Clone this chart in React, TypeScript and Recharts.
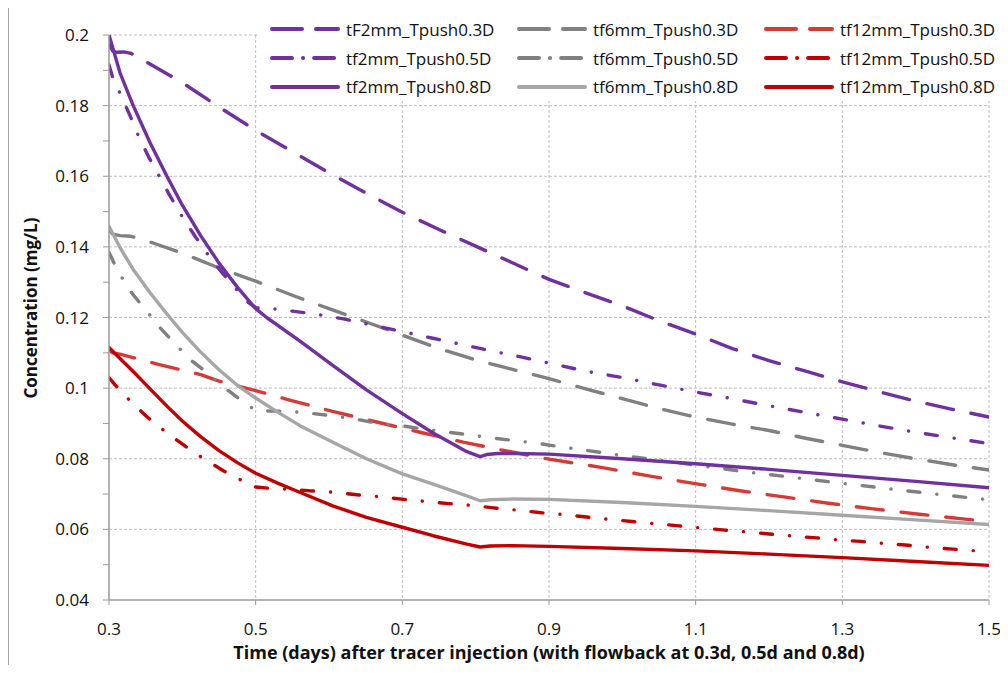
import React from 'react';
import { LineChart, Line, XAxis, YAxis, CartesianGrid } from 'recharts';

// time (days) / concentration (mg/L) pairs
const f2mm03 = [
  [0.3, 0.1972], [0.305, 0.1955], [0.31, 0.1951], [0.32, 0.1952], [0.33, 0.1948], [0.34, 0.1937],
  [0.35, 0.1925], [0.4, 0.1865], [0.45, 0.1796], [0.5, 0.173], [0.55, 0.167], [0.6, 0.161],
  [0.65, 0.1553], [0.7, 0.1498], [0.75, 0.1449], [0.8, 0.1402], [0.85, 0.1355], [0.9, 0.1308],
  [0.95, 0.127], [1.0, 0.1233], [1.05, 0.1191], [1.1, 0.1153], [1.15, 0.1112], [1.2, 0.1078],
  [1.25, 0.1048], [1.3, 0.1018], [1.35, 0.099], [1.4, 0.0963], [1.45, 0.094], [1.5, 0.0918],
];
const f2mm05 = [
  [0.3, 0.1915], [0.305, 0.188], [0.315, 0.1835], [0.328, 0.1775], [0.34, 0.1715], [0.354, 0.1655],
  [0.37, 0.1595], [0.383, 0.1545], [0.4, 0.1485], [0.418, 0.1428], [0.435, 0.1378], [0.455, 0.1325],
  [0.475, 0.1277], [0.49, 0.1243], [0.5, 0.1228], [0.51, 0.1225], [0.53, 0.1224], [0.55, 0.1218],
  [0.58, 0.121], [0.62, 0.1196], [0.66, 0.1178], [0.7, 0.116], [0.74, 0.1142], [0.78, 0.1124],
  [0.82, 0.1106], [0.86, 0.1089], [0.9, 0.1071], [0.95, 0.1048], [1.0, 0.103], [1.05, 0.1009],
  [1.1, 0.0989], [1.15, 0.097], [1.2, 0.095], [1.25, 0.0931], [1.3, 0.0912], [1.35, 0.0893],
  [1.4, 0.0875], [1.45, 0.0859], [1.5, 0.0843],
];
const f2mm08 = [
  [0.3, 0.2], [0.315, 0.1893], [0.333, 0.18], [0.356, 0.1695], [0.379, 0.16], [0.4, 0.1518],
  [0.425, 0.1432], [0.45, 0.1354], [0.475, 0.1286], [0.5, 0.1225], [0.515, 0.12], [0.56, 0.1134],
  [0.606, 0.1063], [0.651, 0.0995], [0.7, 0.0928], [0.742, 0.0873], [0.788, 0.082], [0.806, 0.0806],
  [0.815, 0.0812], [0.83, 0.0815], [0.856, 0.0815], [0.9, 0.0813], [1.0, 0.08], [1.1, 0.0786],
  [1.2, 0.077], [1.3, 0.0753], [1.4, 0.0736], [1.5, 0.0718],
];
const f6mm03 = [
  [0.3, 0.1448], [0.305, 0.1436], [0.315, 0.1432], [0.33, 0.143], [0.36, 0.1411], [0.4, 0.1382],
  [0.45, 0.134], [0.5, 0.1303], [0.55, 0.1263], [0.6, 0.1225], [0.65, 0.1188], [0.7, 0.115],
  [0.75, 0.1112], [0.8, 0.108], [0.85, 0.1053], [0.9, 0.1027], [0.95, 0.0998], [1.0, 0.097],
  [1.05, 0.0942], [1.1, 0.0918], [1.15, 0.0898], [1.2, 0.088], [1.25, 0.0858], [1.3, 0.0838],
  [1.35, 0.0818], [1.4, 0.08], [1.45, 0.0783], [1.5, 0.0768],
];
const f6mm05 = [
  [0.3, 0.1385], [0.31, 0.134], [0.32, 0.1305], [0.33, 0.1272], [0.347, 0.1229], [0.37, 0.117],
  [0.388, 0.113], [0.41, 0.1082], [0.434, 0.1043], [0.457, 0.1002], [0.483, 0.0961], [0.5, 0.0937],
  [0.52, 0.0935], [0.541, 0.0935], [0.57, 0.093], [0.604, 0.0922], [0.642, 0.091], [0.667, 0.09],
  [0.7, 0.0893], [0.729, 0.0884], [0.763, 0.0875], [0.79, 0.0868], [0.822, 0.0859], [0.851, 0.0852],
  [0.89, 0.0842], [0.915, 0.0834], [0.95, 0.0824], [0.977, 0.0816], [1.0, 0.0809], [1.05, 0.0796],
  [1.1, 0.0782], [1.164, 0.0764], [1.226, 0.0749], [1.289, 0.0733], [1.351, 0.0718], [1.414, 0.0703],
  [1.476, 0.0689], [1.5, 0.0684],
];
const f6mm08 = [
  [0.3, 0.1458], [0.315, 0.1398], [0.333, 0.1336], [0.356, 0.127], [0.379, 0.121], [0.4, 0.1158],
  [0.424, 0.1104], [0.45, 0.1052], [0.475, 0.1008], [0.5, 0.0972], [0.53, 0.0932], [0.561, 0.0893],
  [0.606, 0.0846], [0.651, 0.08], [0.7, 0.0757], [0.742, 0.0728], [0.788, 0.0695], [0.806, 0.0681],
  [0.82, 0.0684], [0.85, 0.0686], [0.9, 0.0685], [1.0, 0.0676], [1.1, 0.0665], [1.2, 0.0653],
  [1.3, 0.064], [1.4, 0.0627], [1.5, 0.0614],
];
const f12mm03 = [
  [0.3, 0.1108], [0.305, 0.11], [0.315, 0.1096], [0.33, 0.1088], [0.366, 0.1068], [0.4, 0.1051],
  [0.425, 0.1038], [0.45, 0.102], [0.485, 0.1001], [0.5, 0.0993], [0.545, 0.0967], [0.605, 0.0934],
  [0.665, 0.0904], [0.724, 0.0875], [0.783, 0.0847], [0.842, 0.0822], [0.9, 0.0799], [0.973, 0.0775],
  [1.034, 0.0752], [1.095, 0.0731], [1.158, 0.071], [1.22, 0.0692], [1.281, 0.0674], [1.342, 0.0658],
  [1.405, 0.0643], [1.467, 0.0629], [1.5, 0.0622],
];
const f12mm05 = [
  [0.3, 0.103], [0.308, 0.101], [0.331, 0.0959], [0.354, 0.0915], [0.379, 0.0873], [0.405, 0.0834],
  [0.43, 0.0799], [0.456, 0.0766], [0.485, 0.0734], [0.5, 0.072], [0.52, 0.0716], [0.546, 0.0714],
  [0.575, 0.0709], [0.608, 0.0705], [0.638, 0.0698], [0.672, 0.0692], [0.702, 0.0685], [0.733, 0.0679],
  [0.763, 0.0673], [0.795, 0.0668], [0.824, 0.0661], [0.858, 0.0654], [0.89, 0.0647], [0.92, 0.0642],
  [0.951, 0.0635], [0.983, 0.0628], [1.02, 0.0621], [1.045, 0.0616], [1.077, 0.061], [1.108, 0.0604],
  [1.14, 0.0598], [1.17, 0.0593], [1.2, 0.0587], [1.233, 0.0581], [1.265, 0.0576], [1.295, 0.057],
  [1.325, 0.0566], [1.358, 0.056], [1.39, 0.0555], [1.42, 0.0549], [1.451, 0.0544], [1.483, 0.0539],
  [1.5, 0.0536],
];
const f12mm08 = [
  [0.3, 0.1115], [0.315, 0.1084], [0.333, 0.1047], [0.356, 0.0998], [0.379, 0.0949], [0.4, 0.0907],
  [0.424, 0.0864], [0.45, 0.0823], [0.475, 0.0789], [0.5, 0.0759], [0.53, 0.0731], [0.56, 0.0705],
  [0.606, 0.0666], [0.651, 0.0634], [0.7, 0.0606], [0.742, 0.0582], [0.788, 0.0558], [0.806, 0.055],
  [0.82, 0.0553], [0.85, 0.0554], [0.9, 0.0552], [1.0, 0.0546], [1.1, 0.0539], [1.2, 0.053],
  [1.3, 0.052], [1.4, 0.0509], [1.5, 0.0498],
];

const xTicks = [0.3, 0.5, 0.7, 0.9, 1.1, 1.3, 1.5];
const yTicks = [0.04, 0.05, 0.06, 0.07, 0.08, 0.09, 0.1, 0.11, 0.12, 0.13, 0.14, 0.15, 0.16, 0.17, 0.18, 0.19, 0.2];
const xGrid = [0.5, 0.7, 0.9, 1.1, 1.3, 1.5];
const yGrid = [0.06, 0.08, 0.1, 0.12, 0.14, 0.16, 0.18, 0.2];

const PURPLE = '#7030A0';
const GRAY = '#808080';
const LIGHT_GRAY = '#A6A6A6';
const RED = '#D63A36';
const DARK_RED = '#C00000';

const DASH = '27 18';
const DASH_DOT = '12 17 0.1 17';
const LEG_DASH = '30 14';
const LEG_DASH_DOT = '20 11 0.1 11';

// legend is read row by row, so keep that order here
const series = [
  { name: 'tF2mm_Tpush0.3D', color: PURPLE, kind: 'dash', data: f2mm03 },
  { name: 'tf6mm_Tpush0.3D', color: GRAY, kind: 'dash', data: f6mm03 },
  { name: 'tf12mm_Tpush0.3D', color: RED, kind: 'dash', data: f12mm03 },
  { name: 'tf2mm_Tpush0.5D', color: PURPLE, kind: 'dashdot', data: f2mm05 },
  { name: 'tf6mm_Tpush0.5D', color: GRAY, kind: 'dashdot', data: f6mm05 },
  { name: 'tf12mm_Tpush0.5D', color: DARK_RED, kind: 'dashdot', data: f12mm05 },
  { name: 'tf2mm_Tpush0.8D', color: PURPLE, kind: 'solid', data: f2mm08 },
  { name: 'tf6mm_Tpush0.8D', color: LIGHT_GRAY, kind: 'solid', data: f6mm08 },
  { name: 'tf12mm_Tpush0.8D', color: DARK_RED, kind: 'solid', data: f12mm08 },
];

const FONT = "'Open Sans', sans-serif";
const toPts = (arr) => arr.map(([t, c]) => ({ t, c }));
const plotDash = (k) => (k === 'dash' ? DASH : k === 'dashdot' ? DASH_DOT : undefined);
const legDash = (k) => (k === 'dash' ? LEG_DASH : k === 'dashdot' ? LEG_DASH_DOT : undefined);

const yLabel = (v) => {
  const n = Math.round(v * 100);
  return n % 2 === 0 ? String(n / 100) : '';
};

const ChartLegend = () => (
  <div style={{
    position: 'absolute', left: 250, top: 2, width: 750, height: 91,
    background: '#fff', paddingTop: 5, boxSizing: 'border-box',
  }}>
    {[0, 1, 2].map((row) => (
      <div key={row} style={{ display: 'flex', height: 28.75, alignItems: 'center' }}>
        {series.slice(row * 3, row * 3 + 3).map((s) => (
          <div key={s.name} style={{ width: 247, display: 'flex', alignItems: 'center', paddingLeft: 12, boxSizing: 'border-box' }}>
            <svg width={70} height={8} style={{ overflow: 'visible' }}>
              <line x1={2} y1={4} x2={68} y2={4} stroke={s.color} strokeWidth={4}
                strokeLinecap="round" strokeDasharray={legDash(s.kind)} />
            </svg>
            <span style={{ marginLeft: 6, fontSize: 17, color: '#111', fontFamily: FONT, whiteSpace: 'nowrap' }}>
              {s.name}
            </span>
          </div>
        ))}
      </div>
    ))}
  </div>
);

export default function App() {
  return (
    <div style={{ position: 'relative', width: 1000, height: 657, fontFamily: FONT }}>
      <div style={{
        position: 'absolute', left: 0, top: -1, width: 1000, height: 658,
        borderLeft: '1px solid #a6a6a6', borderTop: '1px solid #a6a6a6', boxSizing: 'border-box',
      }} />
      <LineChart width={1000} height={657} margin={{ top: 27, right: 19, left: 0, bottom: 0 }}>
        <CartesianGrid stroke="#bdbdbd" strokeDasharray="3 2"
          horizontalValues={yGrid} verticalValues={xGrid} />
        <XAxis dataKey="t" type="number" domain={[0.3, 1.5]} ticks={xTicks} allowDataOverflow
          interval={0} height={65} tickSize={5} tickMargin={18}
          axisLine={{ stroke: '#9a9a9a', strokeWidth: 1.5 }} tickLine={{ stroke: '#9a9a9a' }}
          tick={{ fill: '#111', fontSize: 17, fontFamily: FONT }}
          label={{
            value: 'Time (days) after  tracer injection (with flowback at 0.3d, 0.5d and 0.8d)',
            position: 'insideBottom', offset: 6, fill: '#111', fontSize: 18, fontWeight: 'bold', fontFamily: FONT,
          }} />
        <YAxis dataKey="c" type="number" domain={[0.04, 0.2]} ticks={yTicks} allowDataOverflow
          interval={0} width={101} tickSize={6} tickMargin={14} tickFormatter={yLabel}
          axisLine={{ stroke: '#9a9a9a', strokeWidth: 1.5 }} tickLine={{ stroke: '#9a9a9a' }}
          tick={{ fill: '#111', fontSize: 17, fontFamily: FONT }} />
        {series.map((s) => (
          <Line key={s.name} data={toPts(s.data)} dataKey="c" name={s.name} type="linear"
            stroke={s.color} strokeWidth={3.4} strokeDasharray={plotDash(s.kind)}
            strokeLinecap="round" strokeLinejoin="round" dot={false} activeDot={false}
            isAnimationActive={false} />
        ))}
      </LineChart>
      <ChartLegend />
      <div style={{
        position: 'absolute', left: -127, top: 288, width: 300, height: 24, lineHeight: '24px',
        textAlign: 'center', transform: 'rotate(-90deg)', fontSize: 17, fontWeight: 'bold', color: '#111',
      }}>
        Concentration (mg/L)
      </div>
    </div>
  );
}
